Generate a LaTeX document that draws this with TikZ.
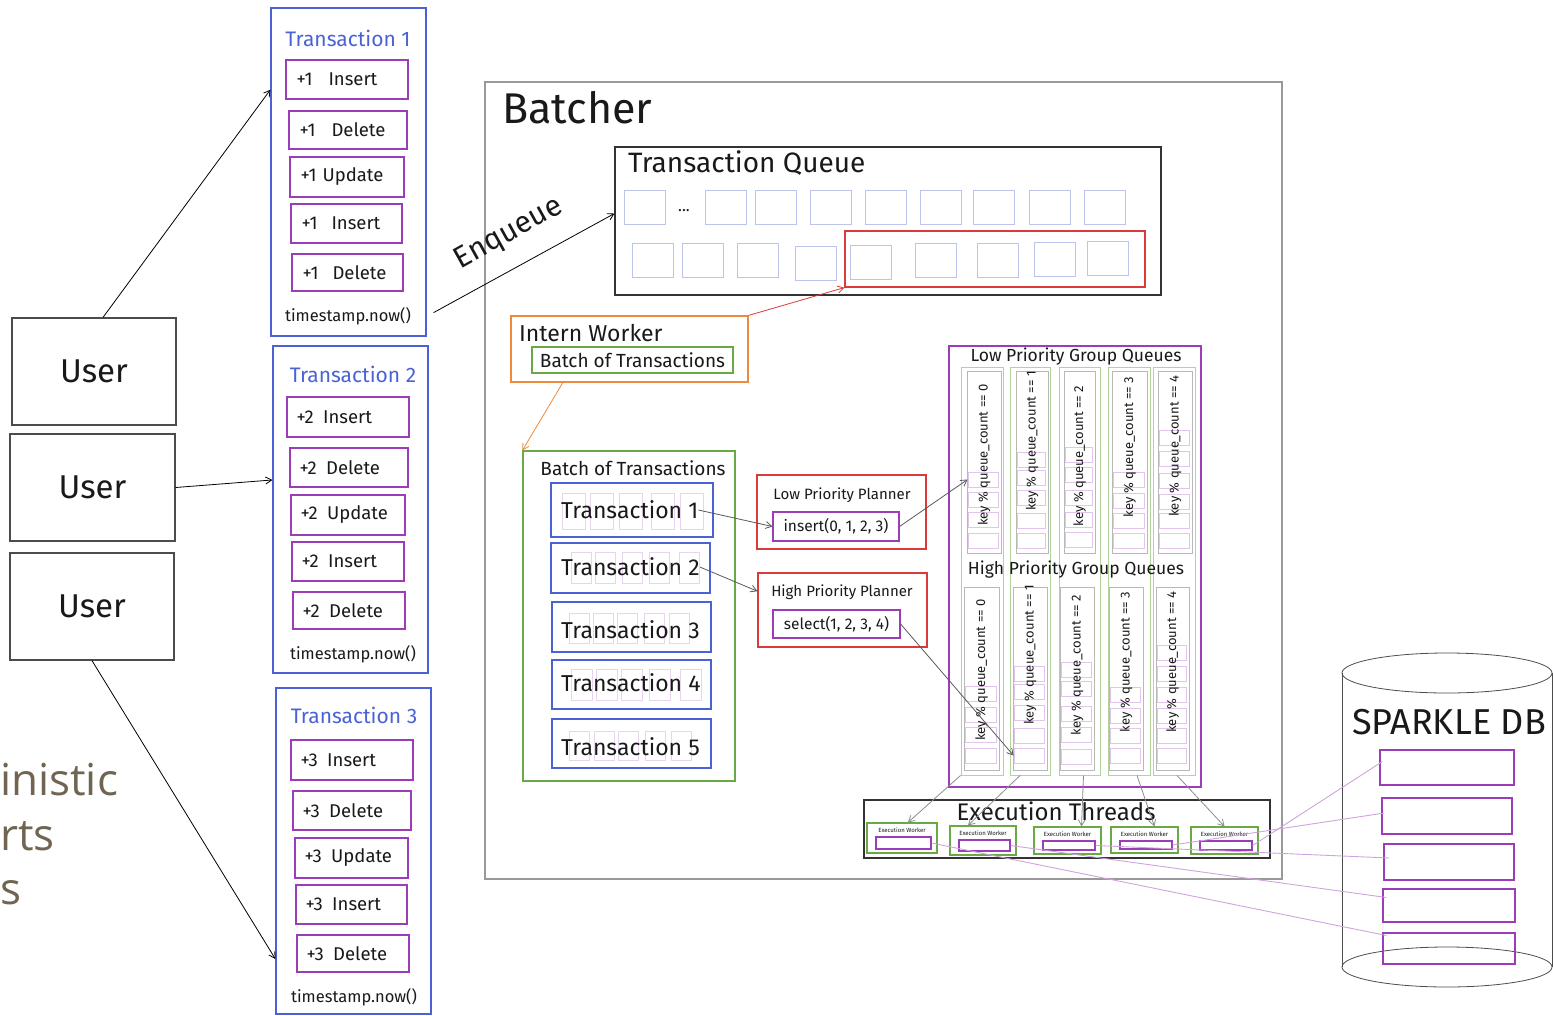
\documentclass[tikz,border=0pt]{standalone}
\usepackage{fontspec}
\setmainfont{Fira Sans}
\newfontfamily\slidefont{Open Sans}
\usetikzlibrary{calc}
\usetikzlibrary{fit}
\usetikzlibrary{arrows.meta}

\definecolor{txblue}{HTML}{4A62D4}
\definecolor{oppurple}{HTML}{9B3DB8}
\definecolor{batchgreen}{HTML}{6AAA45}
\definecolor{lanegreen}{HTML}{B2D49B}
\definecolor{planred}{HTML}{DB3A3A}
\definecolor{iworange}{HTML}{EE8A3C}
\definecolor{sqblue}{HTML}{BCC4EA}
\definecolor{slidebrown}{HTML}{706552}
\definecolor{dbwire}{HTML}{CFA3DC}

\tikzset{
  skbox/.style={draw, inner sep=0pt, line width=1.2pt, fit={#1}},
  userbox/.style={skbox={#1}, draw=black!70},
  txbox/.style={skbox={#1}, draw=txblue},
  opbox/.style={skbox={#1}, draw=oppurple},
  greenbox/.style={skbox={#1}, draw=batchgreen},
  redbox/.style={skbox={#1}, draw=planred},
  qsq/.style={skbox={#1}, draw=sqblue, line width=1pt},
  bslot/.style={skbox={#1}, draw=oppurple!22, line width=1pt},
  lane/.style={skbox={#1}, draw=lanegreen, line width=1pt},
  qcol/.style={skbox={#1}, draw=black!28, line width=.9pt},
  qslot/.style={skbox={#1}, draw=oppurple!30, line width=.9pt},
  ink/.style={text=black!90, inner sep=0pt},
  fs/.style={font=\fontsize{#1}{#1}\selectfont},
  slidetxt/.style={inner sep=0pt, anchor=base west, text=slidebrown, font=\slidefont\fontsize{44}{44}\selectfont},
  arr/.style={-{Straight Barb[length=6pt,width=7pt]}, line width=.8pt},
  wire/.style={draw=dbwire, line width=.9pt},
}

\begin{document}
\begin{tikzpicture}[x=1pt,y=-1pt]
\useasboundingbox (0,0) rectangle (1553,1015);

% slide text behind the sketch
\node[slidetxt] (slide1) at (0,795) {inistic};
\node[slidetxt] (slide2) at (0,850) {rts};
\node[slidetxt] (slide3) at (0,904) {s};

% users
\foreach \xa/\ya/\xb/\yb [count=\i] in {12/318/176/425, 10/434/175/541, 10/553/174/660} {
  \node[userbox={(\xa,\ya) (\xb,\yb)}] (user\i) {};
  \node[ink, fs=33] (userl\i) at (user\i) {User};
}

% transactions of the users
\node[txbox={(271,8) (426,336)}] (tx1) {};
\node[txbox={(273,346) (428,673)}] (tx2) {};
\node[txbox={(276,688) (431,1014)}] (tx3) {};
\foreach \t/\xa/\ya/\yb in {1/348/38/316, 2/353/374/654, 3/354/715/997} {
  \node[ink, fs=21, text=txblue] (txl\t) at (\xa,\ya) {Transaction \t};
  \node[ink, fs=16.5] (ts\t) at (\xa,\yb) {timestamp.now()};
}
\foreach \xa/\ya/\xb/\yb/\gap/\op [count=\i] in {286/60/408/99/16/Insert, 289/111/407/149/16/Delete, 290/157/404/197/6/Update, 291/204/402/243/14/Insert, 292/254/403/291/14/Delete} {
  \node[opbox={(\xa,\ya) (\xb,\yb)}] (opa\i) {};
  \node[ink, fs=18.5, anchor=west] (opal\i) at ([xshift=11pt]opa\i.west) {+1\hspace{\gap pt}\op};
}
\foreach \xa/\ya/\xb/\yb/\op [count=\i] in {287/397/409/437/Insert, 290/448/408/487/Delete, 291/495/405/535/Update, 292/542/404/581/Insert, 293/592/405/629/Delete} {
  \node[opbox={(\xa,\ya) (\xb,\yb)}] (opb\i) {};
  \node[ink, fs=18.5, anchor=west] (opbl\i) at ([xshift=10pt]opb\i.west) {+2\enspace\op};
}
\foreach \xa/\ya/\xb/\yb/\op [count=\i] in {291/740/413/780/Insert, 293/791/411/830/Delete, 295/838/408/878/Update, 296/885/407/924/Insert, 297/935/409/972/Delete} {
  \node[opbox={(\xa,\ya) (\xb,\yb)}] (opc\i) {};
  \node[ink, fs=18.5, anchor=west] (opcl\i) at ([xshift=10pt]opc\i.west) {+3\enspace\op};
}

\draw[arr] ($(user1.north)+(9,0)$) -- ($(tx1.north west)!.25!(tx1.south west)$);
\draw[arr] (user2.east) -- ($(tx2.north west)!.41!(tx2.south west)$);
\draw[arr] (user3.south) -- ($(tx3.north west)!.83!(tx3.south west)$);

% batcher
\node[skbox={(485,82) (1282,879)}, draw=black!40, line width=1.6pt] (batcher) {};
\node[ink, fs=43, anchor=west] (batcherl) at (502,108) {Batcher};

\node[skbox={(615,147) (1161,295)}, draw=black!80] (txq) {};
\node[ink, fs=28, anchor=west] (txql) at (628,163) {Transaction Queue};
\foreach \xa [count=\i] in {624,705,755,810,865,920,973,1029,1084}
  \node[qsq={(\xa,190) (\xa+41,224)}] (qa\i) {};
\foreach \xa/\ya [count=\i] in {632/243,682/243,737/243,795/246,850/245,915/243,977/243,1034/242,1087/241}
  \node[qsq={(\xa,\ya) (\xa+41,\ya+34)}] (qb\i) {};
\node[ink, fs=16] (qdots) at (684,211) {...};
\node[redbox={(845,231) (1145,287)}] (qpick) {};

\draw[arr] ($(tx1.south east)+(7,-24)$) -- ($(txq.north west)!.45!(txq.south west)$);
\node[ink, fs=30, rotate=29] (enq) at (509,234) {Enqueue};

% intern worker
\node[skbox={(511,316) (748,382)}, draw=iworange] (iw) {};
\node[ink, fs=23, anchor=west] (iwl) at (519,333) {Intern Worker};
\node[greenbox={(532,347) (733,373)}] (iwb) {};
\node[ink, fs=19] (iwbl) at (iwb) {Batch of Transactions};
\draw[arr, planred] (iw.north east) -- (qpick.south west);

% batch of transactions
\node[greenbox={(523,451) (735,781)}] (batch) {};
\node[ink, fs=19] (batchl) at (633,468) {Batch of Transactions};
\draw[arr, iworange] ($(iw.south west)!.22!(iw.south east)$) -- (batch.north west);
\foreach \xa/\ya/\xb/\yb/\yc/\ys/\yt/\sw/\slots [count=\i] in {
    551/483/713/537/510/493/529/23/{562,590,619,651,680},
    551/543/710/593/567/552/583/20/{571,595,622,649,679},
    552/602/711/652/630/613/643/20/{569,593,617,644,669},
    552/660/711/709/683/669/700/21/{571,596,621,649,680},
    552/719/711/768/747/731/760/20/{569,594,618,645,671}} {
  \node[txbox={(\xa,\ya) (\xb,\yb)}] (bt\i) {};
  \foreach \sx [count=\k] in \slots
    \node[bslot={(\sx,\ys) (\sx+\sw,\yt)}] (bs\i-\k) {};
  \node[ink, fs=23, anchor=west] (btl\i) at (561,\yc) {Transaction \i};
}

% planners
\node[redbox={(757,475) (926,549)}] (lpl) {};
\node[ink, fs=15] (lpll) at (842,495) {Low Priority Planner};
\node[opbox={(773,512) (899,541)}] (lins) {};
\node[ink, fs=15.5] (linsl) at (lins) {insert(0, 1, 2, 3)};
\node[redbox={(758,573) (927,647)}] (hpl) {};
\node[ink, fs=15] (hpll) at (842,592) {High Priority Planner};
\node[opbox={(773,610) (900,638)}] (hsel) {};
\node[ink, fs=15.5] (hsell) at (hsel) {select(1, 2, 3, 4)};
\draw[arr, black!65] (btl1.east) -- (lins.west);
\draw[arr, black!65] (btl2.east) -- ($(hpl.north west)!.25!(hpl.south west)$);

% group queues
\node[skbox={(949,346) (1201,787)}, draw=oppurple] (gq) {};
\foreach \xa/\xb [count=\c from 0] in {961/1003,1010/1050,1059/1100,1108/1150,1153/1195}
  \node[lane={(\xa,367) (\xb,775)}] (lane\c) {};
\node[ink, fs=17.5] (lowgql) at (1076,357) {Low Priority Group Queues};
\node[ink, fs=17.5] (highgql) at (1076,570) {High Priority Group Queues};
\foreach \xa/\xb/\ym/\slots [count=\c from 0] in {
    967/1001/455/{472,492,512,533},
    1016/1048/441/{452,470,490,513,533},
    1064/1095/456/{447,467,490,512,532},
    1112/1147/447/{472,493,513,533},
    1158/1192/446/{430,451,473,494,513,533}} {
  \node[qcol={(\xa,371) (\xb,553)}] (lq\c) {};
  \foreach \ys [count=\k] in \slots
    \node[qslot={(\xa+1,\ys) (\xb-3,\ys+15)}] (ls\c-\k) {};
  \node[ink, fs=13, rotate=90] (lql\c) at ({(\xa+\xb)/2},\ym) {key \% queue\_count == \c};
}
\foreach \xa/\xb/\ym/\slots [count=\c from 0] in {
    964/999/670/{686,707,727,748},
    1013/1047/655/{666,684,705,728,748},
    1060/1094/665/{662,681,706,727,749},
    1109/1143/662/{687,708,728,748},
    1156/1189/662/{645,666,687,708,728,748}} {
  \node[qcol={(\xa,587) (\xb,770)}] (hq\c) {};
  \foreach \ys [count=\k] in \slots
    \node[qslot={(\xa+1,\ys) (\xb-3,\ys+15)}] (hs\c-\k) {};
  \node[ink, fs=13, rotate=90] (hql\c) at ({(\xa+\xb)/2},\ym) {key \% queue\_count == \c};
}
\draw[arr, black!65] (lins.east) -- (ls0-1.west);
\draw[arr, black!65] (hsel.east) -- (hs1-5.west);

% execution threads
\node[skbox={(864,800) (1270,858)}, draw=black!80] (exth) {};
\node[ink, fs=24] (exthl) at (1056,811) {Execution Threads};
\foreach \xa/\ya/\xb/\yb [count=\i] in {867/823/937/853, 950/826/1016/855, 1034/827/1101/854, 1111/827/1178/853, 1191/827/1258/854} {
  \node[greenbox={(\xa,\ya) (\xb,\yb)}] (ew\i) {};
  \node[ink, fs=6] (ewl\i) at ($(ew\i.north)+(0,8)$) {Execution Worker};
  \node[opbox={(\xa+9,\ya+14) (\xb-6,\yb-4)}] (ei\i) {};
}
\draw[arr, black!45] (lane0.south west) -- ($(ew1.north)+(6,0)$);
\draw[arr, black!45] ($(lane1.south)+(-10,0)$) -- ($(ew2.north)+(-15,0)$);
\draw[arr, black!45] ($(lane2.south)+(4,0)$) -- ($(ew3.north)+(14,0)$);
\draw[arr, black!45] ($(lane3.south)+(8,0)$) -- ($(ew4.north)+(10,0)$);
\draw[arr, black!45] ($(lane4.south)+(3,0)$) -- (ew5.north);

% database
\draw[black!70, line width=.8pt] (1342,673) -- (1342,967) (1552,673) -- (1552,967);
\draw[black!70, line width=.8pt] (1447,673) ellipse [x radius=105pt, y radius=20pt];
\draw[black!70, line width=.8pt] (1447,967) ellipse [x radius=105pt, y radius=20pt];
\node[ink, fs=36] (dbl) at (1449,722) {SPARKLE DB};
\foreach \xa/\ya/\xb/\yb [count=\i] in {1380/750/1514/785, 1382/798/1512/834, 1384/844/1514/880, 1383/889/1515/922, 1383/933/1515/964}
  \node[opbox={(\xa,\ya) (\xb,\yb)}] (db\i) {};
\draw[wire] (ei1.east) -- ($(db5.west)+(4,-13)$);
\draw[wire] (ei2.east) -- ($(db4.west)+(4,-8)$);
\draw[wire] (ei3.east) -- ($(db3.west)+(6,-4)$);
\draw[wire] (ei4.east) -- ($(db2.west)+(3,-3)$);
\draw[wire] (ei5.east) -- ($(db1.west)+(3,-6)$);
\end{tikzpicture}
\end{document}
